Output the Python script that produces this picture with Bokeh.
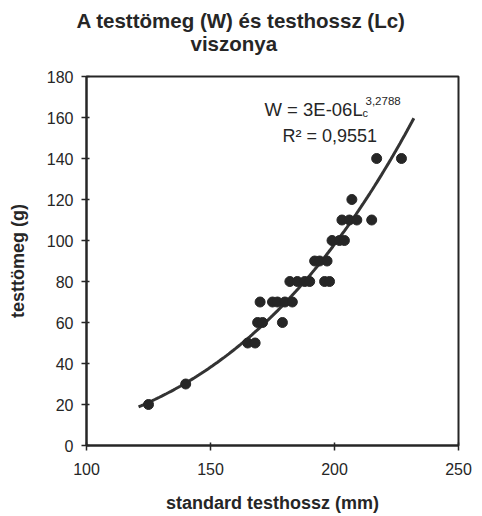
import numpy as np
from bokeh.plotting import figure
from bokeh.models import Label, Range1d, FixedTicker, Title
from bokeh.embed import file_html
from bokeh.resources import INLINE

# data
length_mm = [125, 140, 165, 168, 169, 171, 179, 170, 175, 177, 180, 183,
             182, 185, 188, 190, 196, 198, 192, 194, 197, 199, 202, 204,
             203, 206, 209, 215, 207, 217, 227]
weight_g = [20, 30, 50, 50, 60, 60, 60, 70, 70, 70, 70, 70,
            80, 80, 80, 80, 80, 80, 90, 90, 90, 100, 100, 100,
            110, 110, 110, 110, 120, 140, 140]

# power trendline W = a * L^b (as drawn)
trend_a = 2.8e-6
trend_b = 3.2788
trend_range = [121, 232]

x_ticks = [100, 150, 200, 250]
y_ticks = [0, 20, 40, 60, 80, 100, 120, 140, 160, 180]

FONT = "Liberation Sans"
INK = "#262626"

p = figure(width=482, height=516, output_backend="svg", toolbar_location=None,
           x_range=Range1d(100, 250), y_range=Range1d(0, 180),
           min_border_left=86, min_border_right=24, min_border_top=76,
           min_border_bottom=71)
p.background_fill_color = "white"
p.border_fill_color = "white"
p.outline_line_color = INK
p.outline_line_width = 2
p.xgrid.visible = False
p.ygrid.visible = False

for ax in (p.xaxis[0], p.yaxis[0]):
    ax.axis_line_color = INK
    ax.axis_line_width = 2
    ax.major_tick_line_color = INK
    ax.major_tick_line_width = 1.5
    ax.major_tick_in = 3
    ax.major_tick_out = 5
    ax.minor_tick_line_color = None
    ax.major_label_text_font = FONT
    ax.major_label_text_font_size = "16px"
    ax.major_label_text_color = INK
    ax.axis_label_text_font = FONT
    ax.axis_label_text_font_style = "bold"
    ax.axis_label_text_font_size = "18px"
    ax.axis_label_text_color = INK

p.xaxis.ticker = FixedTicker(ticks=x_ticks)
p.yaxis.ticker = FixedTicker(ticks=y_ticks)
p.xaxis.major_label_standoff = 12
p.yaxis.major_label_standoff = 8
p.xaxis.axis_label = "standard testhossz (mm)"
p.yaxis.axis_label = "testtömeg (g)"
p.xaxis.axis_label_standoff = 15
p.yaxis.axis_label_standoff = 16

xs = np.linspace(trend_range[0], trend_range[1], 120)
ys = trend_a * xs ** trend_b
p.line(xs, ys, line_color="#333333", line_width=3)

p.scatter(length_mm, weight_g, size=10, marker="circle",
          fill_color=INK, line_color=INK)

# title: spacer above the frame, then the two lines stacked upward
p.add_layout(Title(text=" ", text_font=FONT, text_font_size="10px",
                   standoff=7), "above")
p.add_layout(Title(text="viszonya", align="left", offset=104,
                   vertical_align="top", standoff=0, text_font=FONT,
                   text_font_style="bold", text_font_size="20.5px",
                   text_color=INK), "above")
p.add_layout(Title(text="A testtömeg (W) és testhossz (Lc)", align="left",
                   offset=-10, standoff=0, text_font=FONT,
                   text_font_style="bold", text_font_size="20.5px",
                   text_color=INK), "above")

# equation
p.add_layout(Label(x=178, y=336, x_units="screen", y_units="screen",
                   text="W = 3E-06L", text_font=FONT, text_font_size="18.5px",
                   text_baseline="alphabetic", text_color=INK))
p.add_layout(Label(x=276, y=333, x_units="screen", y_units="screen",
                   text="c", text_font=FONT, text_font_size="11px",
                   text_baseline="alphabetic", text_color=INK))
p.add_layout(Label(x=279, y=345, x_units="screen", y_units="screen",
                   text="3,2788", text_font=FONT, text_font_size="11.5px",
                   text_baseline="alphabetic", text_color=INK))
p.add_layout(Label(x=196, y=310, x_units="screen", y_units="screen",
                   text="R² = 0,9551", text_font=FONT, text_font_size="18px",
                   text_baseline="alphabetic", text_color=INK))

open("out.html", "w").write(file_html(p, INLINE))
